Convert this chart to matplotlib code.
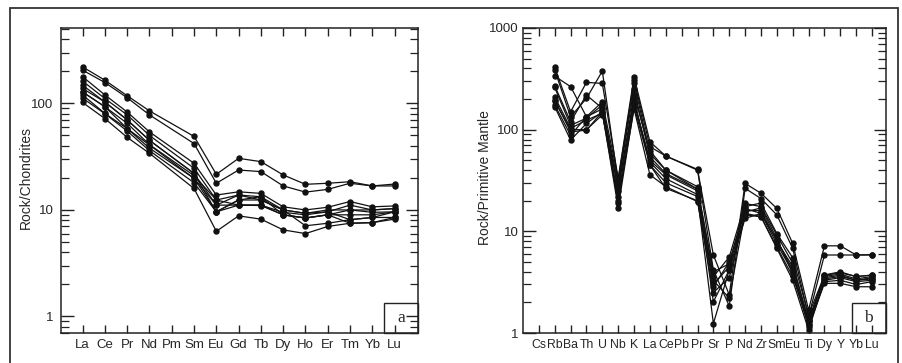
import matplotlib
matplotlib.use("Agg")
import matplotlib.pyplot as plt
import numpy as np
from matplotlib.patches import Rectangle
from matplotlib.ticker import FixedLocator, LogLocator, NullFormatter, FuncFormatter

plt.rcParams.update({
    "font.family": ["Liberation Sans", "DejaVu Sans"],
    "font.size": 9.5,
    "text.color": "#262626",
    "axes.labelcolor": "#262626",
    "axes.edgecolor": "#222222",
    "axes.linewidth": 1.1,
    "xtick.color": "#222222",
    "ytick.color": "#222222",
    "xtick.labelcolor": "#262626",
    "ytick.labelcolor": "#262626",
})

# ---- panel a: chondrite-normalised REE ----
ree = ["La", "Ce", "Pr", "Nd", "Pm", "Sm", "Eu", "Gd", "Tb", "Dy", "Ho", "Er", "Tm", "Yb", "Lu"]
nan = np.nan
ree_samples = [
    [220, 165, 118, 85, nan, 49, 21.6, 30.5, 28.4, 21.3, 17.4, 17.8, 18.4, 16.8, 17.5],
    [205, 157, 113, 78, nan, 42, 17.8, 23.7, 22.9, 16.8, 14.7, 15.6, 17.8, 16.8, 16.8],
    [178, 120, 83, 54, nan, 27.4, 13.8, 14.8, 14.3, 10.7, 10.0, 10.6, 12.0, 10.7, 10.9],
    [162, 111, 78, 50, nan, 24.6, 12.4, 13.8, 13.3, 10.0, 9.3, 9.6, 11.1, 10.0, 10.3],
    [148, 103, 70, 45, nan, 22.0, 11.1, 13.8, 12.4, 10.0, 9.3, 10.0, 10.0, 10.0, 10.3],
    [138, 103, 70, 45, nan, 22.0, 9.6, 12.4, 13.3, 9.0, 8.4, 9.0, 10.0, 9.5, 9.6],
    [128, 93, 65, 41, nan, 21.0, 12.4, 11.1, 11.1, 9.0, 8.4, 9.0, 9.0, 9.0, 9.6],
    [128, 93, 58, 40.7, nan, 19.8, 11.1, 11.1, 11.1, 9.5, 9.0, 9.6, 8.1, 8.5, 9.6],
    [120, 80.5, 58, 38, nan, 19.8, 9.6, 12.4, 12.4, 10.0, 7.1, 7.5, 8.1, 8.5, 8.5],
    [112, 80, 55, 36, nan, 18.0, 9.6, 11.1, 11.0, 9.0, 8.4, 9.0, 7.5, 7.6, 8.5],
    [102, 72, 48, 34, nan, 15.9, 6.3, 8.8, 8.2, 6.5, 6.0, 7.0, 7.5, 7.6, 8.2],
]

# ---- panel b: primitive-mantle-normalised multi-element ----
trace = ["Cs", "Rb", "Ba", "Th", "U", "Nb", "K", "La", "Ce", "Pb", "Pr", "Sr", "P",
         "Nd", "Zr", "Sm", "Eu", "Ti", "Dy", "Y", "Yb", "Lu"]
trace_samples = [
    [nan, 410, 150, 292, 285, 33, 331, 76, 55, nan, 40.7, 5.85, 2.37, 29.6, 23.7, 16.8, 7.6, 1.68, 7.2, 7.2, 5.85, 5.9],
    [nan, 385, 134, 203, 377, 30, 310, 68, 55, nan, 40.0, 4.17, 1.84, 26.5, 21.0, 14.5, 6.8, 1.45, 5.85, 5.85, 5.85, 5.85],
    [nan, 336, 265, 134, 188, 33, 290, 58, 40, nan, 27.5, 3.58, 5.6, 18.8, 17.5, 9.2, 4.85, 1.30, 3.72, 4.0, 3.58, 3.72],
    [nan, 270, 120, 219, 162, 30, 250, 54, 37, nan, 26.0, 2.85, 5.0, 16.8, 15.0, 8.2, 4.17, 1.24, 3.6, 3.8, 3.4, 3.6],
    [nan, 260, 110, 130, 175, 25, 220, 62, 40, nan, 26.0, 4.0, 4.8, 17.5, 19.0, 9.5, 5.5, 1.50, 3.7, 3.9, 3.6, 3.7],
    [nan, 210, 103, 124, 145, 19, 181, 50, 36, nan, 25.0, 2.03, 4.17, 14.5, 13.9, 6.8, 3.3, 1.07, 3.3, 3.5, 3.2, 3.3],
    [nan, 196, 95, 99, 150, 17, 168, 45, 30, nan, 22.0, 1.24, 4.17, 13.4, 15.0, 7.5, 4.0, 1.15, 3.08, 3.08, 2.85, 2.85],
    [nan, 190, 100, 100, 140, 28, 190, 48, 33, nan, 23.0, 3.3, 2.2, 15.5, 17.0, 8.5, 3.8, 1.30, 3.4, 3.6, 3.3, 3.4],
    [nan, 175, 88, 134, 160, 20, 160, 36, 27.5, nan, 19.6, 2.5, 3.5, 15.0, 14.0, 7.0, 3.6, 1.20, 3.2, 3.3, 3.0, 3.2],
    [nan, 168, 79, 115, 150, 22, 200, 45, 26.5, nan, 20.0, 3.0, 4.5, 16.0, 16.0, 8.0, 4.5, 1.35, 3.5, 3.7, 3.3, 3.5],
]


def draw_spider(ax, names, samples, ylim, xlim, ylabel, tag, label_x, tick_pad, xfont):
    x = np.arange(len(names))
    for s in samples:
        s = np.asarray(s, dtype=float)
        ok = ~np.isnan(s)
        ax.plot(x[ok], s[ok], "-o", color="#111111", lw=0.9, ms=3.6)
    ax.set_yscale("log")
    ax.set_xlim(*xlim)
    ax.set_ylim(*ylim)
    ax.xaxis.set_major_locator(FixedLocator(x))
    ax.set_xticklabels(names, fontsize=xfont)
    ax.yaxis.set_major_locator(LogLocator(base=10))
    ax.yaxis.set_minor_locator(LogLocator(base=10, subs=np.arange(2, 10)))
    ax.yaxis.set_major_formatter(FuncFormatter(lambda v, p: f"{v:g}"))
    ax.yaxis.set_minor_formatter(NullFormatter())
    ax.tick_params(axis="x", direction="in", length=6, width=1, top=True, bottom=True, pad=4)
    ax.tick_params(axis="y", which="major", direction="in", length=9, width=1,
                   left=True, right=True, pad=tick_pad)
    ax.tick_params(axis="y", which="minor", direction="in", length=6, width=0.9,
                   left=True, right=True)
    ax.set_ylabel(ylabel, fontsize=10)
    ax.yaxis.set_label_coords(label_x, 0.51)
    ax.add_patch(Rectangle((0.905, 0.0), 0.095, 0.098, transform=ax.transAxes,
                           fill=False, ec="#222222", lw=1.0, clip_on=False))
    ax.text(0.952, 0.049, tag, transform=ax.transAxes, ha="center", va="center",
            fontsize=12.5, family=["Liberation Serif", "DejaVu Serif"])


fig = plt.figure(figsize=(9.02, 3.63), dpi=100)

ax_a = fig.add_axes([61 / 902, 30 / 363, 357 / 902, 305 / 363])
draw_spider(ax_a, ree, ree_samples, (0.70, 510), (-0.97, 15.05),
            "Rock/Chondrites", "a", -0.078, 5.5, 9.5)

ax_b = fig.add_axes([523 / 902, 30 / 363, 363 / 902, 305 / 363])
draw_spider(ax_b, trace, trace_samples, (1, 1000), (-1.0, 21.88),
            "Rock/Primitive Mantle", "b", -0.085, 3, 8.8)

# outer frame around both panels
fig.patches.append(Rectangle((10 / 902, -0.02), 888 / 902, 1.02 - 8 / 363,
                             transform=fig.transFigure, fill=False,
                             ec="#333333", lw=1.3))

fig.savefig("out.png", dpi=100)
